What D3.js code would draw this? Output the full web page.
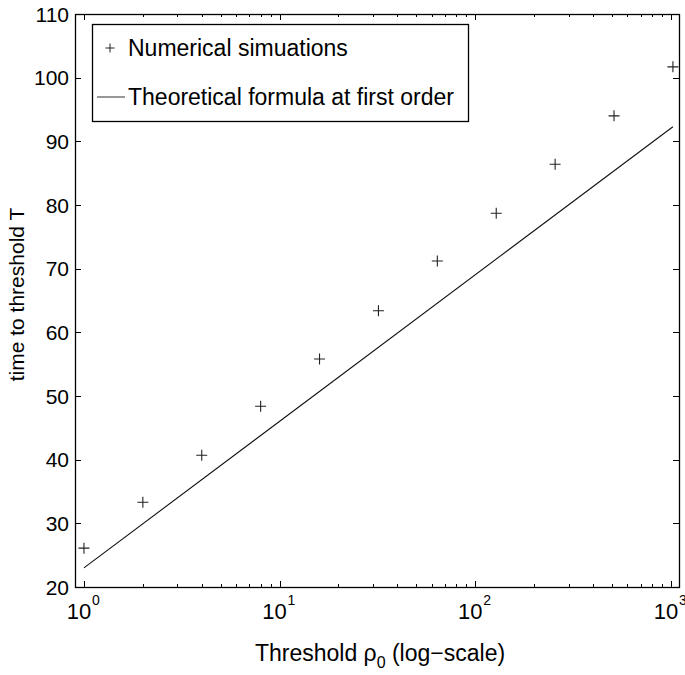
<!DOCTYPE html>
<html><head><meta charset="utf-8">
<script src="https://cdn.jsdelivr.net/npm/d3@7"></script>
<style>body{margin:0;background:#fff}svg{display:block}text{font-family:"Liberation Sans",Arial,sans-serif;fill:#000}</style>
</head><body><svg id="c" width="685" height="675"></svg>
<script>
const rho = [1, 2, 4, 8, 16, 32, 64, 128, 256, 512, 1024];
const simT = [26.1, 33.3, 40.7, 48.4, 55.8, 63.4, 71.2, 78.7, 86.4, 94.0, 101.7];
const theoryRho = [1, 1024];
const theoryT = [23.0, 92.3];
const yTicks = [20, 30, 40, 50, 60, 70, 80, 90, 100, 110];
const xTicks = [1, 10, 100, 1000];
const legendLabels = ["Numerical simuations", "Theoretical formula at first order"];

const svg = d3.select("#c");
const L = 75, R = 679, T = 14, B = 587;
const x = d3.scaleLog().domain([0.9, 1100]).range([L, R]);
const y = d3.scaleLinear().domain([20, 110]).range([B, T]);

// minor ticks
const minor = [];
for (let d = 1; d <= 100; d *= 10) for (let k = 2; k <= 9; k++) minor.push(d * k);
const g = svg.append("g").attr("stroke", "#000").attr("stroke-width", 1);
minor.forEach(v => {
  const px = Math.round(x(v)) + 0.5;
  g.append("line").attr("x1", px).attr("x2", px).attr("y1", B).attr("y2", B - 3);
  g.append("line").attr("x1", px).attr("x2", px).attr("y1", T).attr("y2", T + 3);
});
xTicks.forEach(v => {
  const px = Math.round(x(v)) + 0.5;
  g.append("line").attr("x1", px).attr("x2", px).attr("y1", B).attr("y2", B - 6);
  g.append("line").attr("x1", px).attr("x2", px).attr("y1", T).attr("y2", T + 6);
});
yTicks.forEach(v => {
  const py = Math.round(y(v)) + 0.5;
  g.append("line").attr("x1", L).attr("x2", L + 6).attr("y1", py).attr("y2", py);
  g.append("line").attr("x1", R).attr("x2", R - 6).attr("y1", py).attr("y2", py);
});
svg.append("rect").attr("x", L + 0.5).attr("y", T + 0.5).attr("width", R - L).attr("height", B - T)
  .attr("fill", "none").attr("stroke", "#000").attr("stroke-width", 1.3);

// y tick labels
svg.append("g").selectAll("text").data(yTicks).join("text")
  .attr("x", L - 6).attr("y", d => y(d)).attr("dy", "0.36em")
  .attr("text-anchor", "end").attr("font-size", 21).text(d => d);

// x tick labels (10^n)
const xl = svg.append("g").selectAll("g").data(xTicks).join("g")
  .attr("transform", d => `translate(${x(d)},619)`);
xl.append("text").attr("x", -5).attr("text-anchor", "middle").attr("font-size", 22).text("10");
xl.append("text").attr("x", 8).attr("y", -14).attr("text-anchor", "start").attr("font-size", 14)
  .text(d => Math.round(Math.log10(d)));

// axis titles
const xt = svg.append("text").attr("x", (L + R) / 2 + 3).attr("y", 661).attr("text-anchor", "middle").attr("font-size", 23);
xt.append("tspan").text("Threshold \u03C1");
xt.append("tspan").attr("font-size", 16).attr("dy", 7).text("0");
xt.append("tspan").attr("dy", -7).text(" (log\u2212scale)");
svg.append("text").attr("transform", `translate(24,${(T + B) / 2 - 6}) rotate(-90)`).attr("text-anchor", "middle")
  .attr("font-size", 21).text("time to threshold T");

// theory line
const line = d3.line().x(d => x(d[0])).y(d => y(d[1]));
svg.append("path").datum(theoryRho.map((r, i) => [r, theoryT[i]]))
  .attr("d", line).attr("fill", "none").attr("stroke", "#111").attr("stroke-width", 1.1);

// markers
const plus = (sel, s) => sel.attr("d", `M${-s},0H${s}M0,${-s}V${s}`);
svg.append("g").selectAll("path").data(rho).join("path")
  .attr("transform", (d, i) => `translate(${x(d)},${y(simT[i])})`)
  .call(plus, 5.5).attr("stroke", "#222").attr("stroke-width", 1.1).attr("fill", "none");

// legend
const lg = svg.append("g");
lg.append("rect").attr("x", 92.5).attr("y", 24.5).attr("width", 376).attr("height", 97)
  .attr("fill", "#fff").attr("stroke", "#000").attr("stroke-width", 1.3);
lg.append("path").attr("transform", "translate(110,48)").call(plus, 4.5)
  .attr("stroke", "#222").attr("stroke-width", 1);
lg.append("line").attr("x1", 97).attr("x2", 125).attr("y1", 97).attr("y2", 97)
  .attr("stroke", "#444").attr("stroke-width", 1.1);
lg.selectAll("text").data(legendLabels).join("text")
  .attr("x", 128).attr("y", (d, i) => 48 + i * 49).attr("dy", "0.36em")
  .attr("font-size", 23).text(d => d);
</script></body></html>
